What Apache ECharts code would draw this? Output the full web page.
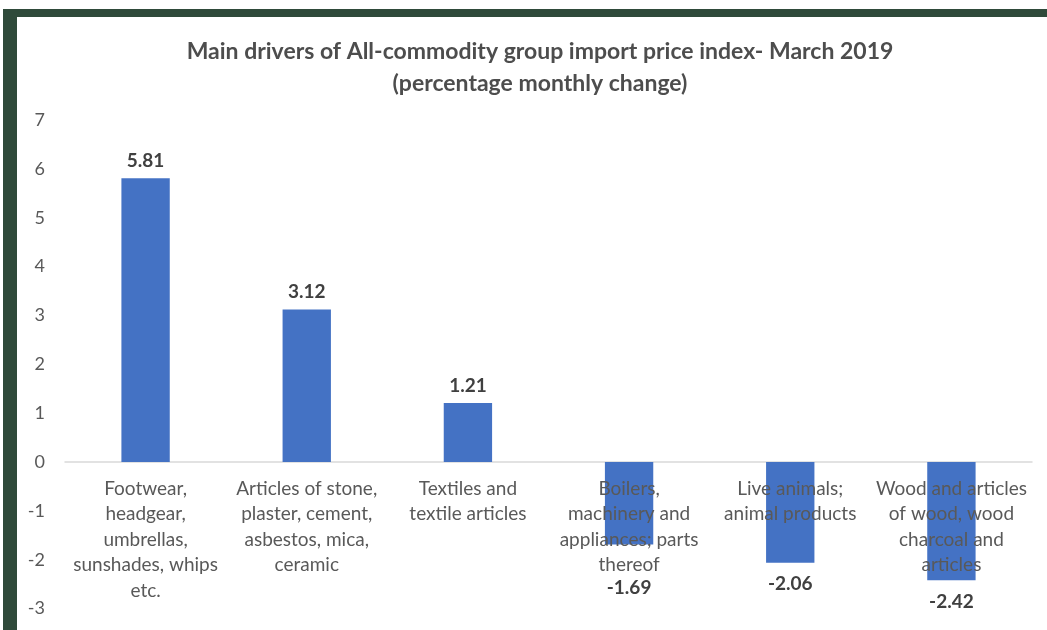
<!DOCTYPE html>
<html>
<head>
<meta charset="utf-8">
<script src="https://cdn.jsdelivr.net/npm/echarts@6/dist/echarts.min.js"></script>
<style>
html,body{margin:0;padding:0;background:#fff;}
#chart{width:1047px;height:630px;}
</style>
</head>
<body>
<div id="chart"></div>
<script>
const titleText = 'Main drivers of All-commodity group import price index- March 2019\n(percentage monthly change)';
const categories = [
  'Footwear,\nheadgear,\numbrellas,\nsunshades, whips\netc.',
  'Articles of stone,\nplaster, cement,\nasbestos, mica,\nceramic',
  'Textiles and\ntextile articles',
  'Boilers,\nmachinery and\nappliances; parts\nthereof',
  'Live animals;\nanimal products',
  'Wood and articles\nof wood, wood\ncharcoal and\narticles'
];
const values = [5.81, 3.12, 1.21, -1.69, -2.06, -2.42];
const yTicks = { min: -3, max: 7, interval: 1 };

const FONT = 'Lato';
const labelColor = '#404040';
const negDistance = [12, 12, 12, 34, 12, 12];

const gridTop = 120, gridBottom = 21.4, H = 630;
const plotH = H - gridTop - gridBottom;
const zeroOffset = -plotH * (0 - yTicks.min) / (yTicks.max - yTicks.min);

const seriesData = values.map((v, i) => ({
  value: v,
  label: v >= 0
    ? { position: 'top', distance: 8 }
    : { position: 'bottom', distance: negDistance[i] }
}));

const chart = echarts.init(document.getElementById('chart'), null, { renderer: 'canvas' });
chart.setOption({
  backgroundColor: '#ffffff',
  animation: false,
  graphic: [
    { type: 'rect', shape: { x: 3, y: 9, width: 1044, height: 8 }, style: { fill: '#2f4a3a' }, z: 100 },
    { type: 'rect', shape: { x: 3, y: 9, width: 14, height: 621 }, style: { fill: '#2f4a3a' }, z: 100 }
  ],
  title: {
    text: titleText,
    left: 535,
    top: 31,
    textAlign: 'center',
    textStyle: {
      fontFamily: FONT,
      fontSize: 23,
      fontWeight: 'bold',
      color: '#4d4d4d',
      lineHeight: 32
    }
  },
  grid: { left: 65, right: 15, top: gridTop, bottom: gridBottom, containLabel: false, outerBoundsMode: 'none' },
  xAxis: [{
    type: 'category',
    data: categories,
    position: 'bottom',
    offset: zeroOffset,
    axisLine: { onZero: false, lineStyle: { color: '#d9d9d9', width: 1.5 } },
    axisTick: { show: false },
    axisLabel: { show: false },
    splitLine: { show: false },
    z: 1
  }, {
    type: 'category',
    data: categories,
    position: 'bottom',
    offset: zeroOffset,
    axisLine: { show: false, onZero: false },
    axisTick: { show: false },
    axisLabel: {
      interval: 0,
      margin: 14,
      fontFamily: FONT,
      fontSize: 19,
      lineHeight: 25.5,
      color: '#595959'
    },
    splitLine: { show: false },
    z: 5
  }],
  yAxis: {
    type: 'value',
    min: yTicks.min,
    max: yTicks.max,
    interval: yTicks.interval,
    axisLine: { show: false },
    axisTick: { show: false },
    splitLine: { show: false },
    axisLabel: {
      margin: 20,
      fontFamily: FONT,
      fontSize: 18,
      color: '#595959'
    }
  },
  series: [{
    type: 'bar',
    xAxisIndex: 0,
    data: seriesData,
    barWidth: '30%',
    itemStyle: { color: '#4472c4' },
    label: {
      show: true,
      fontFamily: FONT,
      fontSize: 19,
      fontWeight: 'bold',
      color: labelColor,
      formatter: p => p.value.toFixed(2)
    }
  }]
});
</script>
</body>
</html>
